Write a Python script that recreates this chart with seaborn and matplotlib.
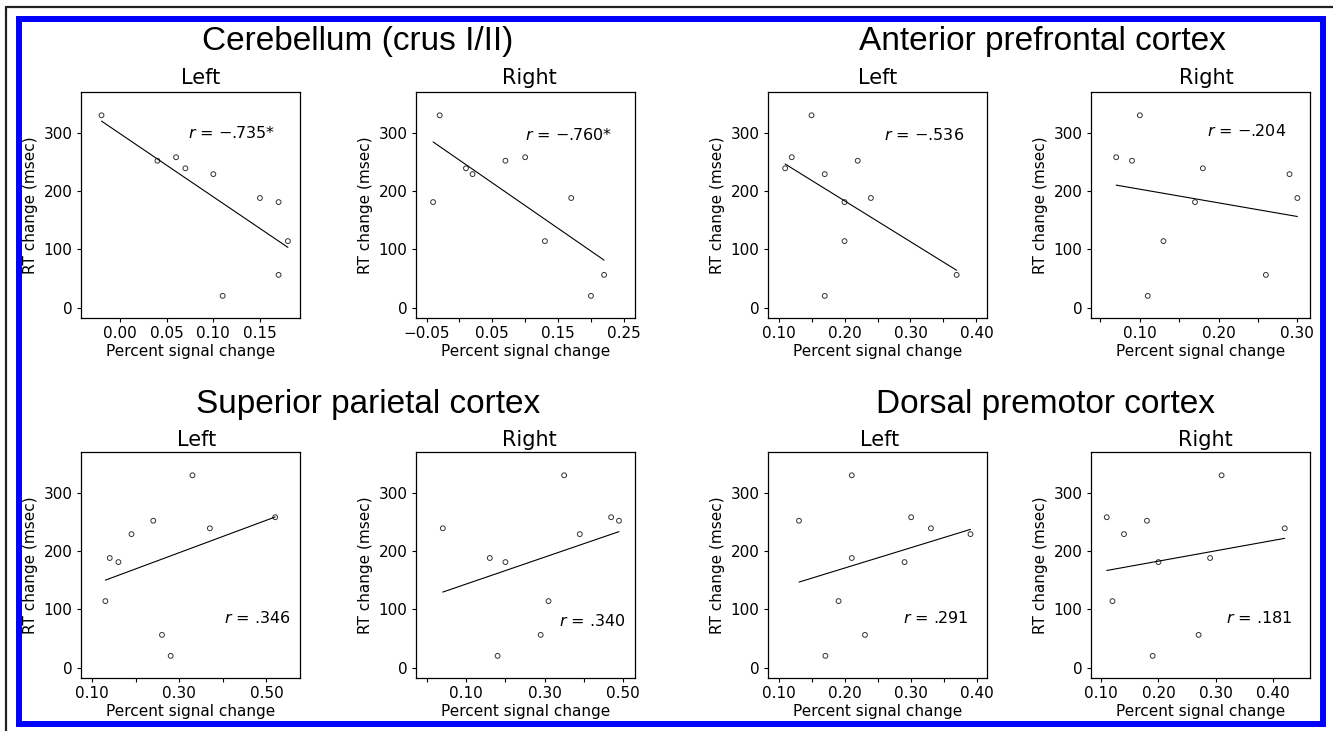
import matplotlib
matplotlib.use("Agg")
import matplotlib.pyplot as plt
import seaborn as sns
from matplotlib.patches import Rectangle
from matplotlib.lines import Line2D

# ---------------- data ----------------
# RT change (msec) for the same ten subjects, shared by every panel
rt_change = [330, 258, 252, 239, 229, 188, 181, 114, 56, 20]

# Percent signal change per region / hemisphere (same subject order)
cereb_left = [-0.02, 0.06, 0.04, 0.07, 0.10, 0.15, 0.17, 0.18, 0.17, 0.11]
cereb_right = [-0.03, 0.10, 0.07, 0.01, 0.02, 0.17, -0.04, 0.13, 0.22, 0.20]
apfc_left = [0.15, 0.12, 0.22, 0.11, 0.17, 0.24, 0.20, 0.20, 0.37, 0.17]
apfc_right = [0.10, 0.07, 0.09, 0.18, 0.29, 0.30, 0.17, 0.13, 0.26, 0.11]
spc_left = [0.33, 0.52, 0.24, 0.37, 0.19, 0.14, 0.16, 0.13, 0.26, 0.28]
spc_right = [0.35, 0.47, 0.49, 0.04, 0.39, 0.16, 0.20, 0.31, 0.29, 0.18]
dpm_left = [0.21, 0.30, 0.13, 0.33, 0.39, 0.21, 0.29, 0.19, 0.23, 0.17]
dpm_right = [0.31, 0.11, 0.18, 0.42, 0.14, 0.29, 0.20, 0.12, 0.27, 0.19]

r_values = ["\u2212.735*", "\u2212.760*", "\u2212.536", "\u2212.204",
            ".346", ".340", ".291", ".181"]

region_titles = ["Cerebellum (crus I/II)", "Anterior prefrontal cortex",
                 "Superior parietal cortex", "Dorsal premotor cortex"]
side_titles = ["Left", "Right", "Left", "Right", "Left", "Right", "Left", "Right"]

x_ticks = [
    [0.00, 0.05, 0.10, 0.15],
    [-0.05, 0.00, 0.05, 0.10, 0.15, 0.20, 0.25],
    [0.10, 0.15, 0.20, 0.25, 0.30, 0.35, 0.40],
    [0.05, 0.10, 0.15, 0.20, 0.25, 0.30],
    [0.10, 0.20, 0.30, 0.40, 0.50],
    [0.00, 0.10, 0.20, 0.30, 0.40, 0.50],
    [0.10, 0.15, 0.20, 0.25, 0.30, 0.35, 0.40],
    [0.10, 0.20, 0.30, 0.40],
]
x_tick_labels = [
    ["0.00", "0.05", "0.10", "0.15"],
    ["\u22120.05", "", "0.05", "", "0.15", "", "0.25"],
    ["0.10", "", "0.20", "", "0.30", "", "0.40"],
    ["", "0.10", "", "0.20", "", "0.30"],
    ["0.10", "", "0.30", "", "0.50"],
    ["", "0.10", "", "0.30", "", "0.50"],
    ["0.10", "", "0.20", "", "0.30", "", "0.40"],
    ["0.10", "0.20", "0.30", "0.40"],
]
y_ticks = [0, 100, 200, 300]
y_tick_labels = ["0", "100", "200", "300"]

panel_x = [cereb_left, cereb_right, apfc_left, apfc_right,
           spc_left, spc_right, dpm_left, dpm_right]

# ---------------- style / layout ----------------
sns.set_theme(style="ticks")
plt.rcParams["font.family"] = ["DejaVu Sans"]
plt.rcParams["mathtext.fontset"] = "dejavusans"
plt.rcParams.update({
    "axes.edgecolor": "black",
    "axes.linewidth": 0.9,
    "axes.labelcolor": "black",
    "text.color": "black",
    "axes.titlecolor": "black",
    "xtick.color": "black",
    "ytick.color": "black",
    "xtick.major.size": 3,
    "ytick.major.size": 3,
    "xtick.major.width": 0.8,
    "ytick.major.width": 0.8,
})

W, H = 1333, 731
fig = plt.figure(figsize=(W / 100, H / 100), dpi=100, facecolor="white")

col_left = [81, 416, 768, 1091]
row_top = [92, 452]
ax_w, ax_h = 219, 226

x_limits = [(-0.042, 0.193), (-0.066, 0.267), (0.084, 0.416), (0.038, 0.316),
            (0.074, 0.577), (-0.0285, 0.531), (0.083, 0.415), (0.0826, 0.464)]
r_pos = [(0.073, 300), (0.099, 296), (0.26, 297), (0.185, 303),
         (0.402, 85), (0.336, 79), (0.287, 85), (0.317, 85)]
title_x = [0.546, 0.516, 0.50, 0.527, 0.53, 0.516, 0.511, 0.524]

for i in range(8):
    row, col = divmod(i, 4)
    l = col_left[col]
    t = row_top[row]
    ax = fig.add_axes([l / W, 1 - (t + ax_h) / H, ax_w / W, ax_h / H])
    sns.regplot(x=panel_x[i], y=rt_change, ax=ax, ci=None,
                scatter_kws=dict(s=12, facecolors="none", edgecolors="black",
                                 linewidths=0.7, marker="o"),
                line_kws=dict(color="black", linewidth=0.8))
    ax.set_xlim(*x_limits[i])
    ax.set_ylim(-18, 370)
    ax.set_xticks(x_ticks[i])
    ax.set_xticklabels(x_tick_labels[i], fontsize=11)
    ax.set_yticks(y_ticks)
    ax.set_yticklabels(y_tick_labels, fontsize=11)
    ax.tick_params(direction="out", pad=3)
    ax.set_xlabel("Percent signal change", fontsize=11, labelpad=2)
    ax.set_ylabel("RT change (msec)", fontsize=11, labelpad=4)
    for sp in ax.spines.values():
        sp.set_visible(True)
        sp.set_color("black")
    ax.set_title(side_titles[i], fontsize=15, x=title_x[i],
                 pad=6 if row == 0 else 4, color="black")
    rx, ry = r_pos[i]
    ax.text(rx, ry, "$r$ = " + r_values[i], fontsize=11.5, ha="left",
            va="center", color="black")

# region headings
heading_pos = [(358, 50), (1042, 50), (368, 413), (1046, 413)]
for txt, (hx, hy) in zip(region_titles, heading_pos):
    fig.text(hx / W, 1 - hy / H, txt, fontsize=24, ha="center",
             va="baseline", family=["Liberation Sans", "DejaVu Sans"],
             color="black")

# frames
fig.add_artist(Rectangle((19 / W, 1 - 723.5 / H), (1323 - 19) / W,
                         (723.5 - 19) / H, transform=fig.transFigure,
                         fill=False, edgecolor="#0000ff", linewidth=4.3))
fig.add_artist(Line2D([6 / W, 1], [1 - 7 / H, 1 - 7 / H],
                      transform=fig.transFigure, color="#222222", linewidth=1.6))
fig.add_artist(Line2D([6 / W, 6 / W], [0, 1 - 7 / H],
                      transform=fig.transFigure, color="#222222", linewidth=1.6))

fig.savefig("out.png", dpi=100, facecolor="white")
